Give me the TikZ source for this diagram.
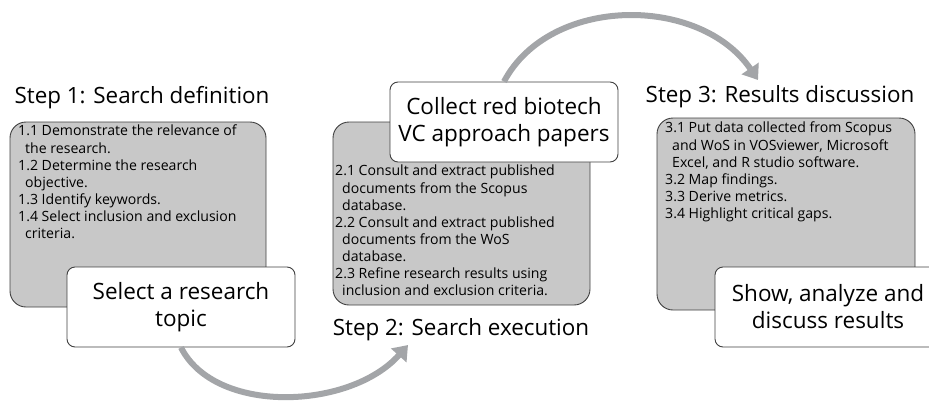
\documentclass[tikz,border=0pt]{standalone}
\usepackage{fontspec}
\setmainfont{Open Sans}
\usetikzlibrary{positioning}
\usetikzlibrary{arrows.meta}

\definecolor{boxgrey}{HTML}{C8C8C8}
\definecolor{arrowgrey}{HTML}{A3A5A8}
\newcommand{\cont}{\hspace*{7pt}}

\tikzset{
  greybox/.style={draw=black!75, fill=boxgrey, rounded corners=16pt, line width=0.9pt},
  whitebox/.style={draw=black!75, fill=white, rounded corners=8pt, line width=0.9pt, align=center, font=\fontsize{22.5}{27}\selectfont},
  heading/.style={font=\fontsize{22.4}{26}\selectfont},
  itemlist/.style={align=left, anchor=north west, inner sep=0pt, font=\fontsize{14.1}{17.1}\selectfont},
  bigarrow/.style={draw=arrowgrey, line width=6pt, -{Triangle[length=14pt,width=20pt]}}
}

\begin{document}
\begin{tikzpicture}[x=1pt,y=-1pt]
\useasboundingbox (0,0) rectangle (929,402);

% step 1
\node (h1) at (142,98) [heading]{Step 1: Search definition};
\node (g1) at (138,214.5) [greybox, minimum width=256pt, minimum height=185pt]{};
\node (l1) at (18,125) [itemlist]{1.1 Demonstrate the relevance of\\
  \cont the research.\\
  1.2 Determine the research\\
  \cont objective.\\
  1.3 Identify keywords.\\
  1.4 Select inclusion and exclusion\\
  \cont criteria.};
\node (sel) at (181,307) [whitebox, minimum width=228pt, minimum height=80pt]{Select a research\\topic};

% step 2
\node (g2) at (461.5,213.5) [greybox, minimum width=257pt, minimum height=183pt]{};
\node (l2) at (335,165) [itemlist]{2.1 Consult and extract published\\
  \cont documents from the Scopus\\
  \cont database.\\
  2.2 Consult and extract published\\
  \cont documents from the WoS\\
  \cont database.\\
  2.3 Refine research results using\\
  \cont inclusion and exclusion criteria.};
\node (col) at (504,122) [whitebox, minimum width=228pt, minimum height=80pt]{Collect red biotech\\VC approach papers};
\node (h2) at (461,330) [heading]{Step 2: Search execution};

% step 3
\node (h3) at (780,97) [heading]{Step 3: Results discussion};
\node (g3) at (786,214) [greybox, minimum width=258pt, minimum height=192pt]{};
\node (l3) at (665,122) [itemlist]{3.1 Put data collected from Scopus\\
  \cont and WoS in VOSviewer, Microsoft\\
  \cont Excel, and R studio software.\\
  3.2 Map findings.\\
  3.3 Derive metrics.\\
  3.4 Highlight critical gaps.};
\node (show) at (828,307) [whitebox, minimum width=226pt, minimum height=80pt]{Show, analyze and\\discuss results};

% arrows between steps
\coordinate (t1) at (408,345);
\coordinate (t2) at (758,80);
\draw[bigarrow] (sel.south) .. controls (215,415) and (350,410) .. (t1);
\draw[bigarrow] (col.north) .. controls (550,-5) and (700,-5) .. (t2);

\end{tikzpicture}
\end{document}
